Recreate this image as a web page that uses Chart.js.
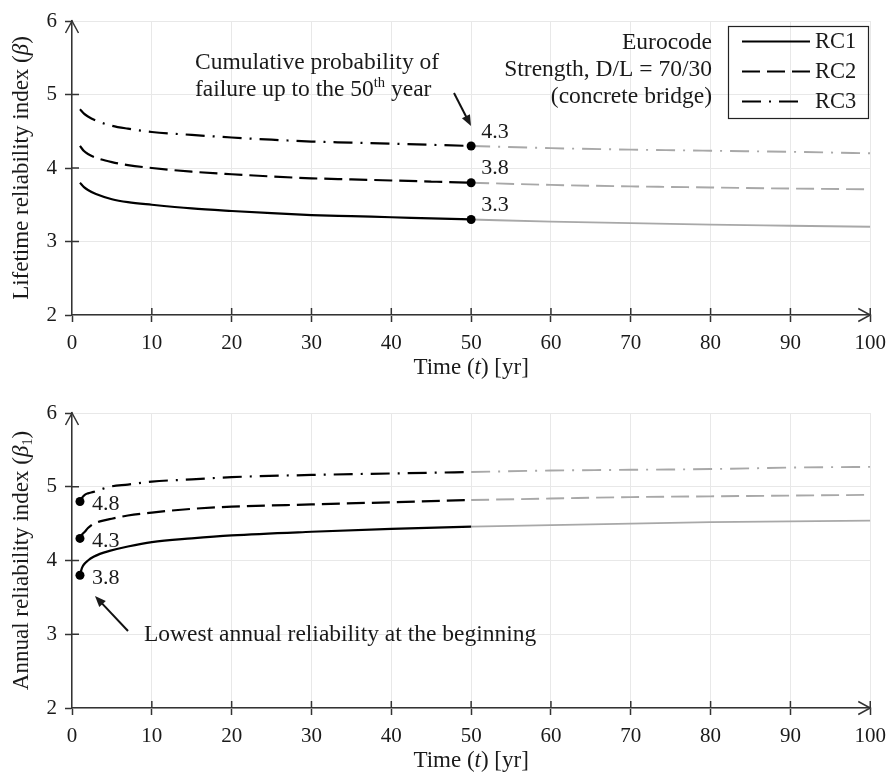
<!DOCTYPE html>
<html>
<head>
<meta charset="utf-8">
<script src="https://cdn.jsdelivr.net/npm/chart.js@4.4.0/dist/chart.umd.min.js"></script>
<style>
  html, body { margin: 0; padding: 0; background: #fff; }
  #wrap { position: relative; width: 895px; height: 774px; }
  #top { position: absolute; left: 0; top: 0; }
  #bot { position: absolute; left: 0; top: 380px; }
</style>
</head>
<body>
<div id="wrap">
  <canvas id="top" width="895" height="380"></canvas>
  <canvas id="bot" width="895" height="394"></canvas>
</div>
<script>
// ---- data ----
const seriesNames = ["RC1", "RC2", "RC3"];
const xTicks = [0, 10, 20, 30, 40, 50, 60, 70, 80, 90, 100];
const yTicks = [2, 3, 4, 5, 6];

// lifetime reliability index (beta), first 50 years
const lifeYears = [1, 1.5, 2, 3, 5, 7, 10, 15, 20, 25, 30, 35, 40, 45, 50];
const lifeRC1 = [3.80, 3.74, 3.70, 3.645, 3.575, 3.535, 3.50, 3.45, 3.415, 3.385, 3.36, 3.345, 3.33, 3.315, 3.30];
const lifeRC2 = [4.30, 4.23, 4.19, 4.14, 4.08, 4.04, 4.00, 3.95, 3.915, 3.885, 3.86, 3.845, 3.83, 3.815, 3.80];
const lifeRC3 = [4.80, 4.74, 4.70, 4.645, 4.575, 4.535, 4.49, 4.45, 4.415, 4.385, 4.36, 4.345, 4.33, 4.315, 4.30];
// after year 50 (grey)
const extYears = [50, 60, 70, 80, 90, 100];
const lifeRC1Ext = [3.30, 3.27, 3.25, 3.23, 3.215, 3.20];
const lifeRC2Ext = [3.80, 3.77, 3.75, 3.735, 3.72, 3.71];
const lifeRC3Ext = [4.30, 4.27, 4.25, 4.235, 4.22, 4.20];

// annual reliability index (beta_1)
const annYears = [1, 1.25, 1.6, 2, 2.7, 3.5, 4.7, 7, 10, 15, 20, 30, 40, 50];
const annRC1 = [3.80, 3.90, 3.96, 4.00, 4.05, 4.09, 4.13, 4.19, 4.25, 4.30, 4.34, 4.39, 4.43, 4.46];
const annRC2 = [4.30, 4.35, 4.39, 4.44, 4.50, 4.53, 4.56, 4.61, 4.65, 4.70, 4.73, 4.76, 4.79, 4.82];
const annRC3 = [4.80, 4.85, 4.89, 4.91, 4.93, 4.96, 5.00, 5.03, 5.07, 5.10, 5.13, 5.16, 5.18, 5.20];
const annRC1Ext = [4.46, 4.48, 4.50, 4.52, 4.53, 4.54];
const annRC2Ext = [4.82, 4.84, 4.86, 4.87, 4.88, 4.89];
const annRC3Ext = [5.20, 5.22, 5.23, 5.24, 5.26, 5.27];

// ---- styles ----
const FAMILY = '"Liberation Serif", "Times New Roman", serif';
const TXT = "#1a1a1a";
const AXIS = "#333";
const GRID = "#e8e8e8";
const GREY = "#a8a8a8";
const NOTE = 23.5;   // annotation font size
const TITLE = 23;    // axis title font size
const dashes = [[], [18, 7], [19, 8, 2, 8]];

const pts = (xs, ys) => xs.map((x, i) => ({ x: x, y: ys[i] }));

function lineSet(label, xs, ys, k, colour, width, dotIdx) {
  return {
    label: label,
    data: pts(xs, ys),
    borderColor: colour,
    borderWidth: width,
    borderDash: dashes[k],
    cubicInterpolationMode: "monotone",
    fill: false,
    pointRadius: c => (c.dataIndex === dotIdx ? 4.5 : 0),
    pointBackgroundColor: "#000",
    pointBorderWidth: 0,
    pointHoverRadius: 0
  };
}

// text with italic / sub / sup pieces
function rich(ctx, parts, x, y, align, size) {
  let w = 0;
  const items = parts.map(p => {
    const st = p[1] || "";
    const fs = (st === "sub" || st === "sup") ? size * 0.62 : size;
    const f = (st === "i" ? "italic " : "") + fs + "px " + FAMILY;
    ctx.font = f;
    const m = ctx.measureText(p[0]).width;
    w += m;
    return { t: p[0], st: st, f: f, m: m };
  });
  let cx = align === "center" ? x - w / 2 : align === "right" ? x - w : x;
  ctx.textAlign = "left";
  ctx.textBaseline = "middle";
  items.forEach(it => {
    ctx.font = it.f;
    const dy = it.st === "sub" ? size * 0.28 : it.st === "sup" ? -size * 0.3 : 0;
    ctx.fillText(it.t, cx, y + dy);
    cx += it.m;
  });
}

function arrow(ctx, x1, y1, x2, y2) {
  const ang = Math.atan2(y2 - y1, x2 - x1);
  const L = 11, H = 4.5;
  ctx.beginPath();
  ctx.moveTo(x1, y1);
  ctx.lineTo(x2 - Math.cos(ang) * L * 0.8, y2 - Math.sin(ang) * L * 0.8);
  ctx.lineWidth = 2;
  ctx.stroke();
  ctx.beginPath();
  ctx.moveTo(x2, y2);
  ctx.lineTo(x2 - Math.cos(ang) * L - Math.sin(ang) * H, y2 - Math.sin(ang) * L + Math.cos(ang) * H);
  ctx.lineTo(x2 - Math.cos(ang) * L + Math.sin(ang) * H, y2 - Math.sin(ang) * L - Math.cos(ang) * H);
  ctx.closePath();
  ctx.fill();
}

// inner tick stubs, arrow heads on axes, axis titles
function axisDecor(chart, yTitle) {
  const { ctx, chartArea: a, scales: { x, y } } = chart;
  ctx.save();
  ctx.strokeStyle = AXIS;
  ctx.lineWidth = 1.5;
  ctx.beginPath();
  y.ticks.forEach(t => {
    if (t.value > y.min && t.value < y.max) {
      const py = y.getPixelForValue(t.value);
      ctx.moveTo(a.left, py); ctx.lineTo(a.left + 7, py);
    }
  });
  x.ticks.forEach(t => {
    if (t.value > x.min) {
      const px = x.getPixelForValue(t.value);
      ctx.moveTo(px, a.bottom); ctx.lineTo(px, a.bottom - 7);
    }
  });
  ctx.moveTo(a.left - 6.5, a.top + 12); ctx.lineTo(a.left, a.top); ctx.lineTo(a.left + 6.5, a.top + 12);
  ctx.moveTo(a.right - 12, a.bottom - 6.5); ctx.lineTo(a.right, a.bottom); ctx.lineTo(a.right - 12, a.bottom + 6.5);
  ctx.stroke();

  ctx.fillStyle = TXT;
  rich(ctx, [["Time ("], ["t", "i"], [") [yr]"]], (a.left + a.right) / 2, a.bottom + 53, "center", TITLE);
  ctx.translate(22, (a.top + a.bottom) / 2);
  ctx.rotate(-Math.PI / 2);
  rich(ctx, yTitle, 0, 0, "center", TITLE);
  ctx.restore();
}

function valueLabels(chart, idxOf, dx, dy) {
  const ctx = chart.ctx;
  ctx.save();
  ctx.fillStyle = TXT;
  ctx.font = "22px " + FAMILY;
  ctx.textAlign = "left";
  ctx.textBaseline = "middle";
  for (let i = 0; i < 3; i++) {
    const ds = chart.data.datasets[i];
    const j = idxOf(ds);
    const el = chart.getDatasetMeta(i).data[j];
    ctx.fillText(ds.data[j].y.toFixed(1), el.x + dx, el.y + dy);
  }
  ctx.restore();
}

const topDecor = {
  id: "topDecor",
  afterDraw(chart) {
    axisDecor(chart, [["Lifetime reliability index ("], ["β", "i"], [")"]]);
    valueLabels(chart, ds => ds.data.length - 1, 10, -14);
    const ctx = chart.ctx;
    ctx.save();
    ctx.fillStyle = TXT;
    ctx.strokeStyle = "#111";
    // note + arrow to the year-50 points
    rich(ctx, [["Cumulative probability of"]], 195, 63, "left", NOTE);
    rich(ctx, [["failure up to the 50"], ["th", "sup"], [" year"]], 195, 90, "left", NOTE);
    arrow(ctx, 454, 93, 471, 126);
    // case description
    rich(ctx, [["Eurocode"]], 712, 43, "right", NOTE);
    rich(ctx, [["Strength, D/L = 70/30"]], 712, 70, "right", NOTE);
    rich(ctx, [["(concrete bridge)"]], 712, 97, "right", NOTE);
    // legend
    ctx.lineWidth = 1.2;
    ctx.strokeStyle = "#222";
    ctx.strokeRect(728.5, 26.5, 140, 92);
    const rows = [41.5, 71.5, 101.5];
    const ends = [810, 810, 800];
    for (let i = 0; i < 3; i++) {
      const ds = chart.data.datasets[i];
      ctx.beginPath();
      ctx.setLineDash(ds.borderDash);
      ctx.strokeStyle = "#000";
      ctx.lineWidth = 2.2;
      ctx.moveTo(742, rows[i]);
      ctx.lineTo(ends[i], rows[i]);
      ctx.stroke();
      ctx.setLineDash([]);
      rich(ctx, [[ds.label]], 815, rows[i] + 1, "left", 22.5);
    }
    ctx.restore();
  }
};

const botDecor = {
  id: "botDecor",
  afterDraw(chart) {
    axisDecor(chart, [["Annual reliability index ("], ["β", "i"], ["1", "sub"], [")"]]);
    valueLabels(chart, ds => 0, 12, 3);
    const ctx = chart.ctx;
    ctx.save();
    ctx.fillStyle = TXT;
    ctx.strokeStyle = "#111";
    rich(ctx, [["Lowest annual reliability at the beginning"]], 144, 255, "left", NOTE);
    arrow(ctx, 128, 251, 95, 216);
    ctx.restore();
  }
};

function scalesFor() {
  const font = { family: FAMILY, size: 21 };
  return {
    x: {
      type: "linear", min: 0, max: 100,
      afterBuildTicks: s => { s.ticks = xTicks.map(v => ({ value: v })); },
      afterFit: s => { s.height = 50; },
      ticks: { font: font, color: TXT, padding: 9, maxRotation: 0 },
      grid: { color: GRID, lineWidth: 1, tickColor: AXIS, tickLength: 7, tickWidth: 1.5 },
      border: { color: AXIS, width: 1.5 }
    },
    y: {
      type: "linear", min: 2, max: 6,
      afterBuildTicks: s => { s.ticks = yTicks.map(v => ({ value: v })); },
      afterFit: s => { s.width = 72; },
      ticks: { font: font, color: TXT, padding: 8 },
      grid: { color: GRID, lineWidth: 1, tickColor: AXIS, tickLength: 7, tickWidth: 1.5 },
      border: { color: AXIS, width: 1.5 }
    }
  };
}

const baseOpts = (pad) => ({
  responsive: false,
  animation: false,
  devicePixelRatio: 1,
  layout: { padding: pad },
  plugins: { legend: { display: false }, tooltip: { enabled: false } },
  scales: scalesFor()
});

new Chart(document.getElementById("top"), {
  type: "line",
  data: {
    datasets: [
      lineSet(seriesNames[0], lifeYears, lifeRC1, 0, "#000", 2.2, lifeYears.length - 1),
      lineSet(seriesNames[1], lifeYears, lifeRC2, 1, "#000", 2.2, lifeYears.length - 1),
      lineSet(seriesNames[2], lifeYears, lifeRC3, 2, "#000", 2.2, lifeYears.length - 1),
      lineSet(seriesNames[0] + " (after 50 yr)", extYears, lifeRC1Ext, 0, GREY, 1.9, -1),
      lineSet(seriesNames[1] + " (after 50 yr)", extYears, lifeRC2Ext, 1, GREY, 1.9, -1),
      lineSet(seriesNames[2] + " (after 50 yr)", extYears, lifeRC3Ext, 2, GREY, 1.9, -1)
    ]
  },
  options: baseOpts({ top: 21, right: 21, bottom: 15, left: 0 }),
  plugins: [topDecor]
});

new Chart(document.getElementById("bot"), {
  type: "line",
  data: {
    datasets: [
      lineSet(seriesNames[0], annYears, annRC1, 0, "#000", 2.2, 0),
      lineSet(seriesNames[1], annYears, annRC2, 1, "#000", 2.2, 0),
      lineSet(seriesNames[2], annYears, annRC3, 2, "#000", 2.2, 0),
      lineSet(seriesNames[0] + " (after 50 yr)", extYears, annRC1Ext, 0, GREY, 1.9, -1),
      lineSet(seriesNames[1] + " (after 50 yr)", extYears, annRC2Ext, 1, GREY, 1.9, -1),
      lineSet(seriesNames[2] + " (after 50 yr)", extYears, annRC3Ext, 2, GREY, 1.9, -1)
    ]
  },
  options: baseOpts({ top: 33, right: 23, bottom: 16, left: 0 }),
  plugins: [botDecor]
});
</script>
</body>
</html>
